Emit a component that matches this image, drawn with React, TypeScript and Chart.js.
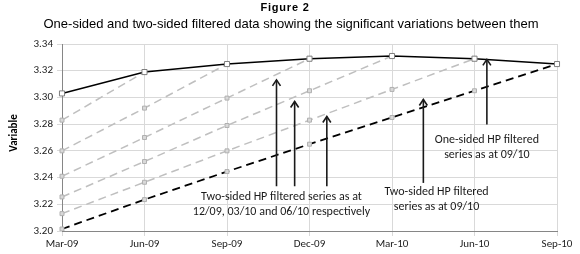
import React, { useEffect, useRef } from "react";
import { Chart, registerables } from "chart.js";

Chart.register(...registerables);

const categories = ["Mar-09", "Jun-09", "Sep-09", "Dec-09", "Mar-10", "Jun-10", "Sep-10"];

const oneSided = [3.303, 3.319, 3.325, 3.329, 3.331, 3.329, 3.325];
const twoSidedJun09 = [3.283, 3.319, null, null, null, null, null];
const twoSidedSep09 = [3.26, 3.292, 3.325, null, null, null, null];
const twoSidedDec09 = [3.241, 3.27, 3.2995, 3.329, null, null, null];
const twoSidedMar10 = [3.2255, 3.252, 3.279, 3.305, 3.331, null, null];
const twoSidedJun10 = [3.213, 3.2365, 3.26, 3.283, 3.306, 3.329, null];
const twoSidedSep10 = [3.2015, 3.2235, 3.2445, 3.265, 3.285, 3.305, 3.325];

const yMin = 3.2;
const yMax = 3.34;
const yStep = 0.02;

const titleText = "Figure 2";
const subtitleText = "One-sided and two-sided filtered data showing the significant variations between them";
const yAxisTitle = "Variable";

// arrows: x as category index (fractional), tip and tail as data values
const arrows = [
  { x: 2.6, tip: 3.3131, tail: 3.2335 },
  { x: 2.82, tip: 3.297, tail: 3.2335 },
  { x: 3.21, tip: 3.2857, tail: 3.2335 },
  { x: 5.15, tip: 3.3285, tail: 3.2797 },
  { x: 4.38, tip: 3.2985, tail: 3.236 },
];

const notes = [
  { x: 2.66, y: 3.2255, lines: ["Two-sided HP filtered series as at", "12/09, 03/10 and 06/10 respectively"] },
  { x: 5.15, y: 3.2683, lines: ["One-sided HP filtered", "series as at 09/10"] },
  { x: 4.54, y: 3.2292, lines: ["Two-sided HP filtered", "series as at 09/10"] },
];

const tickFont = { family: "Carlito, Lato, 'Liberation Sans', sans-serif", size: 11 };

function grayDataset(label: string, data: (number | null)[]) {
  return {
    label,
    data,
    borderColor: "#bfbfbf",
    borderWidth: 1.5,
    borderDash: [8, 5],
    pointStyle: "rect" as const,
    pointRadius: 2.8,
    pointBackgroundColor: "#d9d9d9",
    pointBorderColor: "#b0b0b0",
    pointBorderWidth: 1,
    spanGaps: false,
  };
}

const textPlugin = {
  id: "textPlugin",
  afterDraw(chart: any) {
    const ctx = chart.ctx;
    const xs = chart.scales.x;
    const ys = chart.scales.y;
    ctx.save();
    ctx.fillStyle = "#000";
    ctx.textAlign = "center";
    ctx.textBaseline = "alphabetic";
    ctx.font = "bold 11px 'Liberation Sans', Arial, sans-serif";
    try { (ctx as any).letterSpacing = "0.8px"; } catch (e) {}
    ctx.fillText(titleText, 285, 10.5);
    try { (ctx as any).letterSpacing = "0px"; } catch (e) {}
    ctx.font = "13px 'Liberation Sans', Arial, sans-serif";
    ctx.fillText(subtitleText, 291, 27.5);

    ctx.save();
    ctx.translate(17, 133);
    ctx.rotate(-Math.PI / 2);
    ctx.font = "bold 11px Carlito, Lato, 'Liberation Sans', sans-serif";
    ctx.textBaseline = "alphabetic";
    ctx.fillText(yAxisTitle, 0, 0);
    ctx.restore();

    const valToX = (i: number) => {
      const a = xs.getPixelForValue(0);
      const b = xs.getPixelForValue(1);
      return a + (b - a) * i;
    };

    ctx.strokeStyle = "#1a1a1a";
    ctx.lineWidth = 1.6;
    for (const ar of arrows) {
      const x = valToX(ar.x);
      const yt = ys.getPixelForValue(ar.tip);
      const yb = ys.getPixelForValue(ar.tail);
      ctx.beginPath();
      ctx.moveTo(x, yb);
      ctx.lineTo(x, yt);
      ctx.stroke();
      ctx.beginPath();
      ctx.moveTo(x - 4, yt + 6);
      ctx.lineTo(x, yt);
      ctx.lineTo(x + 4, yt + 6);
      ctx.stroke();
    }

    ctx.fillStyle = "#1a1a1a";
    ctx.font = "12px Carlito, Lato, 'Liberation Sans', sans-serif";
    ctx.textBaseline = "middle";
    for (const n of notes) {
      const x = valToX(n.x);
      const y = ys.getPixelForValue(n.y);
      n.lines.forEach((l, i) => ctx.fillText(l, x, y + i * 15));
    }
    ctx.restore();
  },
};

export default function App() {
  const ref = useRef<HTMLCanvasElement>(null);
  useEffect(() => {
    if (!ref.current) return;
    const chart = new Chart(ref.current, {
      type: "line",
      data: {
        labels: categories,
        datasets: [
          {
            label: "One-sided",
            data: oneSided,
            borderColor: "#000",
            borderWidth: 1.5,
            pointStyle: "rect",
            pointRadius: 3.6,
            pointBackgroundColor: "#fff",
            pointBorderColor: "#7f7f7f",
            pointBorderWidth: 1,
          },
          {
            label: "Two-sided 09/10",
            data: twoSidedSep10,
            borderColor: "#000",
            borderWidth: 1.8,
            borderDash: [8, 5],
            pointStyle: "rect",
            pointRadius: 2.8,
            pointBackgroundColor: "#d9d9d9",
            pointBorderColor: "#b0b0b0",
            pointBorderWidth: 1,
          },
          grayDataset("Two-sided 06/10", twoSidedJun10),
          grayDataset("Two-sided 03/10", twoSidedMar10),
          grayDataset("Two-sided 12/09", twoSidedDec09),
          grayDataset("Two-sided 09/09", twoSidedSep09),
          grayDataset("Two-sided 06/09", twoSidedJun09),
        ],
      },
      options: {
        responsive: false,
        animation: false,
        layout: { padding: { top: 44, right: 23, left: 0, bottom: 0 } },
        plugins: { legend: { display: false }, tooltip: { enabled: false }, title: { display: false } },
        scales: {
          x: {
            type: "category",
            offset: false,
            grid: { color: "#d9d9d9", tickLength: 5, lineWidth: 1 },
            border: { color: "#868686" },
            ticks: { font: tickFont, color: "#222", padding: 2, maxRotation: 0, autoSkip: false },
            afterFit: (s: any) => { s.height = 23; },
          },
          y: {
            min: yMin,
            max: yMax,
            grid: { color: "#d9d9d9", tickLength: 5 },
            border: { color: "#868686" },
            ticks: {
              stepSize: yStep,
              font: tickFont,
              color: "#222",
              padding: 4,
              callback: (v: any) => Number(v).toFixed(2),
            },
            afterFit: (s: any) => { s.width = 62; },
          },
        },
      },
      plugins: [textPlugin],
    });
    return () => chart.destroy();
  }, []);
  return (
    <div style={{ position: "fixed", left: 0, top: 0, width: 580, height: 254, background: "#fff" }}>
      <canvas ref={ref} width={580} height={254} style={{ display: "block" }} />
    </div>
  );
}
